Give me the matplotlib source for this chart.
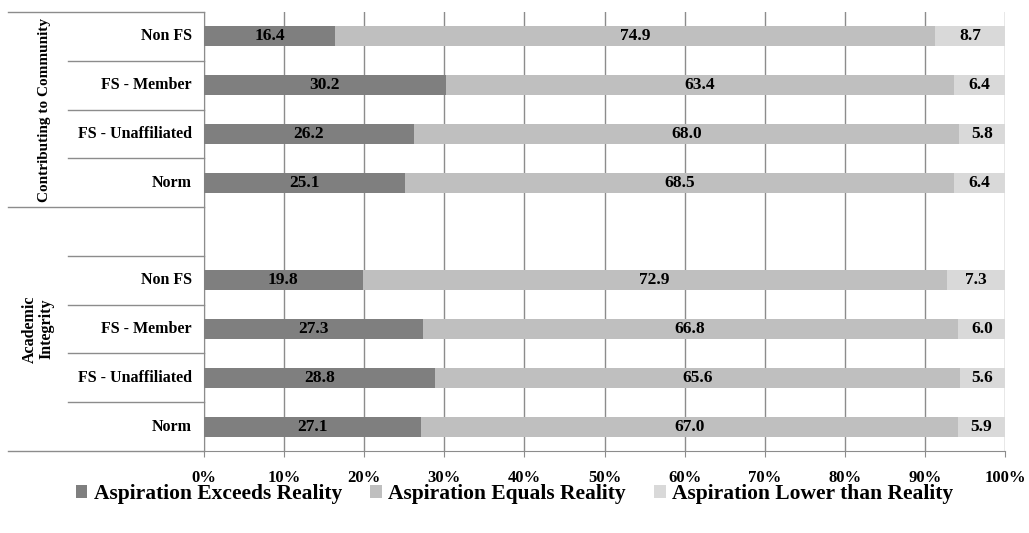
import matplotlib
matplotlib.use("Agg")
import matplotlib.pyplot as plt
from matplotlib.patches import Patch

plt.rcParams['font.family'] = ['Liberation Serif', 'DejaVu Serif']
plt.rcParams['font.weight'] = 'bold'

# Rows from bottom to top; the empty row separates the two groups
row_labels = ["Norm", "FS - Unaffiliated", "FS - Member", "Non FS", "",
              "Norm", "FS - Unaffiliated", "FS - Member", "Non FS"]
exceeds = [27.1, 28.8, 27.3, 19.8, None, 25.1, 26.2, 30.2, 16.4]
equals = [67.0, 65.6, 66.8, 72.9, None, 68.5, 68.0, 63.4, 74.9]
lower = [5.9, 5.6, 6.0, 7.3, None, 6.4, 5.8, 6.4, 8.7]
series_names = ["Aspiration Exceeds Reality", "Aspiration Equals Reality",
                "Aspiration Lower than Reality"]
colors = ["#7f7f7f", "#bfbfbf", "#d9d9d9"]
groups = ["Academic\nIntegrity", "Contributing to Community"]
xticks = [0, 10, 20, 30, 40, 50, 60, 70, 80, 90, 100]

W, H = 1029, 533
fig = plt.figure(figsize=(W / 100, H / 100), dpi=100)
ax = fig.add_axes([204 / W, 1 - 451 / H, (1005 - 204) / W, (451 - 12) / H])

grid_c = "#8c8c8c"
bar_h = 0.41
for i in range(len(row_labels)):
    if exceeds[i] is None:
        continue
    left = 0
    for vals, c in zip((exceeds, equals, lower), colors):
        v = vals[i]
        ax.barh(i, v, left=left, height=bar_h, color=c, edgecolor='none', zorder=3)
        ax.text(left + v / 2, i, f"{v:.1f}", ha='center', va='center',
                fontsize=12.5, fontweight='bold', color='black', zorder=4)
        left += v

ax.set_xlim(0, 100)
ax.set_ylim(-0.5, len(row_labels) - 0.5)
ax.set_xticks(xticks)
ax.set_xticklabels([f"{t}%" for t in xticks], fontsize=12, fontweight='bold')
ax.set_yticks([])
for t in xticks:
    ax.axvline(t, color=grid_c, lw=1, zorder=1)
for s in ['top', 'right']:
    ax.spines[s].set_visible(False)
ax.spines['left'].set_color(grid_c)
ax.spines['bottom'].set_color(grid_c)
ax.tick_params(axis='x', direction='out', length=4.5, color=grid_c, pad=9)

# Hierarchical category axis on the left
tr = ax.get_yaxis_transform()
x_outer = (8 - 204) / (1005 - 204)
x_inner = (68 - 204) / (1005 - 204)
x_lab = (192 - 204) / (1005 - 204)
for y in (-0.5, 4.5, 8.5):
    ax.plot([x_outer, 0], [y, y], transform=tr, color=grid_c, lw=1, clip_on=False)
for y in (0.5, 1.5, 2.5, 3.5, 5.5, 6.5, 7.5):
    ax.plot([x_inner, 0], [y, y], transform=tr, color=grid_c, lw=1, clip_on=False)
for i, lab in enumerate(row_labels):
    ax.text(x_lab, i, lab, transform=tr, ha='right', va='center',
            fontsize=11.5, fontweight='bold')
x_g0 = (38 - 204) / (1005 - 204)
x_g1 = (45 - 204) / (1005 - 204)
ax.text(x_g0, 2.0, groups[0], transform=tr, ha='center', va='center',
        rotation=90, fontsize=11.5, fontweight='bold', linespacing=1.05)
ax.text(x_g1, 6.5, groups[1], transform=tr, ha='center', va='center',
        rotation=90, fontsize=11, fontweight='bold')

handles = [Patch(facecolor=c, edgecolor='none') for c in colors]
fig.legend(handles, series_names, loc='center', bbox_to_anchor=(0.5, 1 - 494 / H),
           ncol=3, frameon=False, handlelength=0.55, handleheight=0.55,
           handletextpad=0.3, columnspacing=1.3, prop={'weight': 'bold', 'size': 15.5})

fig.savefig("out.png", dpi=100)
